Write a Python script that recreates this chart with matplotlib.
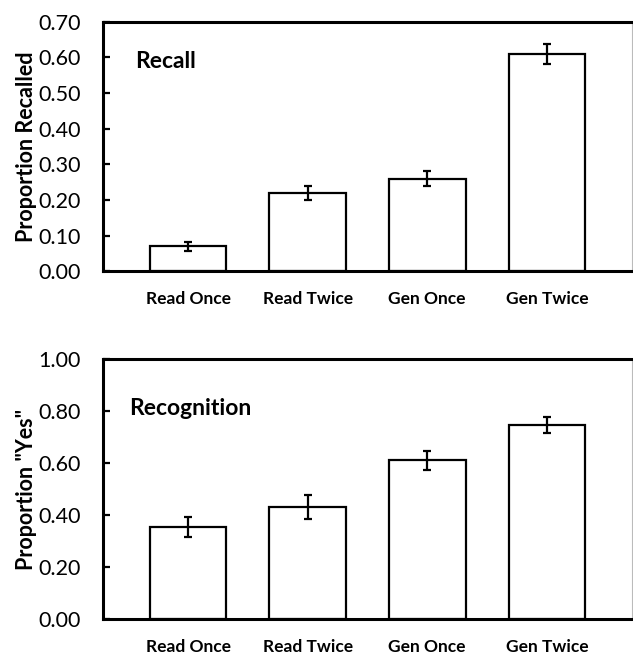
import matplotlib
matplotlib.use("Agg")
from matplotlib import pyplot as plt

plt.rcParams['font.family'] = ['Lato', 'DejaVu Sans']

# data
categories = ['Read Once', 'Read Twice', 'Gen Once', 'Gen Twice']
recall = [0.07, 0.22, 0.26, 0.61]
recall_err = [0.012, 0.02, 0.022, 0.028]
recog = [0.355, 0.43, 0.61, 0.745]
recog_err = [0.038, 0.047, 0.035, 0.031]

recall_ticks = [0.0, 0.1, 0.2, 0.3, 0.4, 0.5, 0.6, 0.7]
recog_ticks = [0.0, 0.2, 0.4, 0.6, 0.8, 1.0]


def panel(ax, vals, errs, ticks, ylabel, title, tpos):
    x = range(len(categories))
    ax.bar(x, vals, width=0.64, color='white', edgecolor='black', linewidth=1.6,
           yerr=errs, error_kw=dict(ecolor='black', elinewidth=1.6, capsize=3, capthick=1.6))
    ax.set_xlim(-0.71, 3.71)
    ax.set_ylim(ticks[0], ticks[-1])
    ax.set_yticks(ticks)
    ax.set_yticklabels(['%.2f' % t for t in ticks], fontsize=15.5)
    ax.set_xticks(list(x))
    ax.set_xticklabels(categories, fontsize=12.5, fontweight='bold')
    ax.tick_params(axis='x', length=0, pad=14)
    ax.tick_params(axis='y', direction='in', length=5, width=1.6, pad=16)
    ax.set_ylabel(ylabel, fontsize=15.5, fontweight='bold', labelpad=1)
    ax.text(tpos[0], tpos[1], title, transform=ax.transAxes,
            fontsize=16.5, fontweight='bold', va='center')
    for s in ['left', 'bottom', 'top']:
        ax.spines[s].set_linewidth(2.2)
    ax.spines['right'].set_linewidth(0.8)
    ax.spines['right'].set_color('#bbbbbb')


fig = plt.figure(figsize=(6.33, 6.6), dpi=100)
ax1 = fig.add_axes([0.163, 0.589, 0.835, 0.378])
ax2 = fig.add_axes([0.163, 0.062, 0.835, 0.394])

panel(ax1, recall, recall_err, recall_ticks, 'Proportion Recalled', 'Recall', (0.06, 0.84))
panel(ax2, recog, recog_err, recog_ticks, 'Proportion "Yes"', 'Recognition', (0.05, 0.81))

fig.savefig('out.png', dpi=100)
